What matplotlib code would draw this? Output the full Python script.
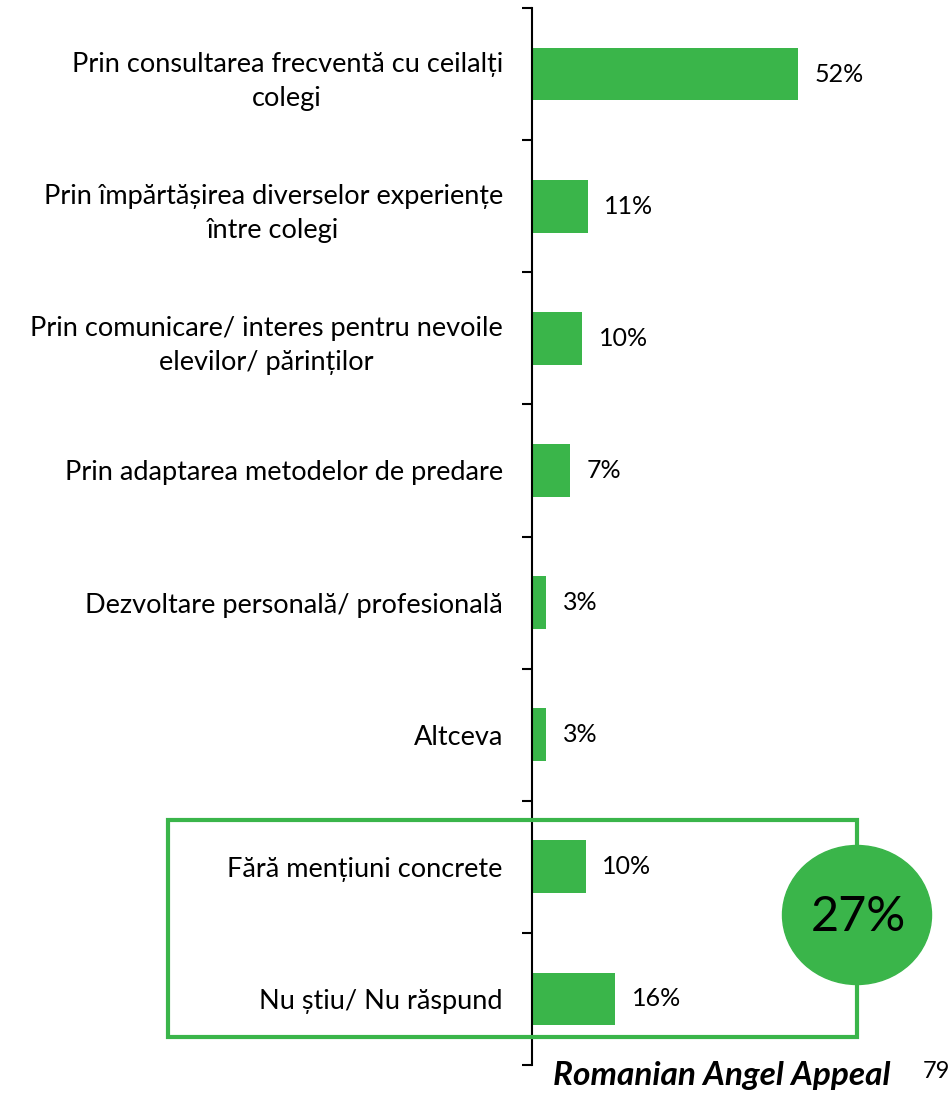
import matplotlib.pyplot as plt
from matplotlib.patches import Rectangle, Ellipse

plt.rcParams['font.family'] = ['Lato', 'DejaVu Sans']

# Date
categorii = [
    'Prin consultarea frecventă cu ceilalți\ncolegi',
    'Prin împărtășirea diverselor experiențe\nîntre colegi',
    'Prin comunicare/ interes pentru nevoile\nelevilor/ părinților',
    'Prin adaptarea metodelor de predare',
    'Dezvoltare personală/ profesională',
    'Altceva',
    'Fără mențiuni concrete',
    'Nu știu/ Nu răspund',
]
valori = [52.0, 10.9, 9.8, 7.4, 2.7, 2.7, 10.5, 16.2]
etichete = ['52%', '11%', '10%', '7%', '3%', '3%', '10%', '16%']
total_grup = '27%'

verde = '#3AB54A'

fig = plt.figure(figsize=(9.52, 10.95), dpi=100)
W, H = 952, 1095
ax = fig.add_axes([532 / W, 1 - 1065 / H, 420 / W, 1057 / H])

n = len(categorii)
y = list(range(n))
ax.barh(y, valori, height=0.4, color=verde)
ax.set_ylim(n - 0.5, -0.5)
ax.set_xlim(0, 420 / 5.115)

for yi, v, et in zip(y, valori, etichete):
    ax.annotate(et, (v, yi), xytext=(12, 0), textcoords='offset points',
                va='center', ha='left', fontsize=18)

ax.set_yticks([i - 0.5 for i in range(n + 1)])
ax.set_yticklabels([])
ax.set_yticks(y, minor=True)
ax.set_yticklabels(categorii, minor=True, fontsize=19.5, multialignment='center',
                   linespacing=1.45)
ax.tick_params(axis='y', which='major', length=7, width=1.5, direction='out')
ax.tick_params(axis='y', which='minor', length=0, pad=21)
ax.set_xticks([])
for s in ['top', 'right', 'bottom']:
    ax.spines[s].set_visible(False)
ax.spines['left'].set_linewidth(1.5)

# Cadru verde si cerc
fig.patches.append(Rectangle((168 / W, 1 - 1037 / H), (857 - 168) / W, (1037 - 820) / H,
                             transform=fig.transFigure, fill=False, edgecolor=verde, linewidth=3))
fig.patches.append(Ellipse((857 / W, 1 - 915 / H), 149 / W, 139 / H,
                           transform=fig.transFigure, color=verde))
fig.text(858 / W, 1 - 917 / H, total_grup, ha='center', va='center', fontsize=35)

fig.text(553 / W, 1 - 1075 / H, 'Romanian Angel Appeal', ha='left', va='center',
         fontsize=24, fontweight='bold', fontstyle='italic')
fig.text(950 / W, 1 - 1071 / H, '79', ha='right', va='center', fontsize=17)

fig.savefig('out.png', dpi=100)
